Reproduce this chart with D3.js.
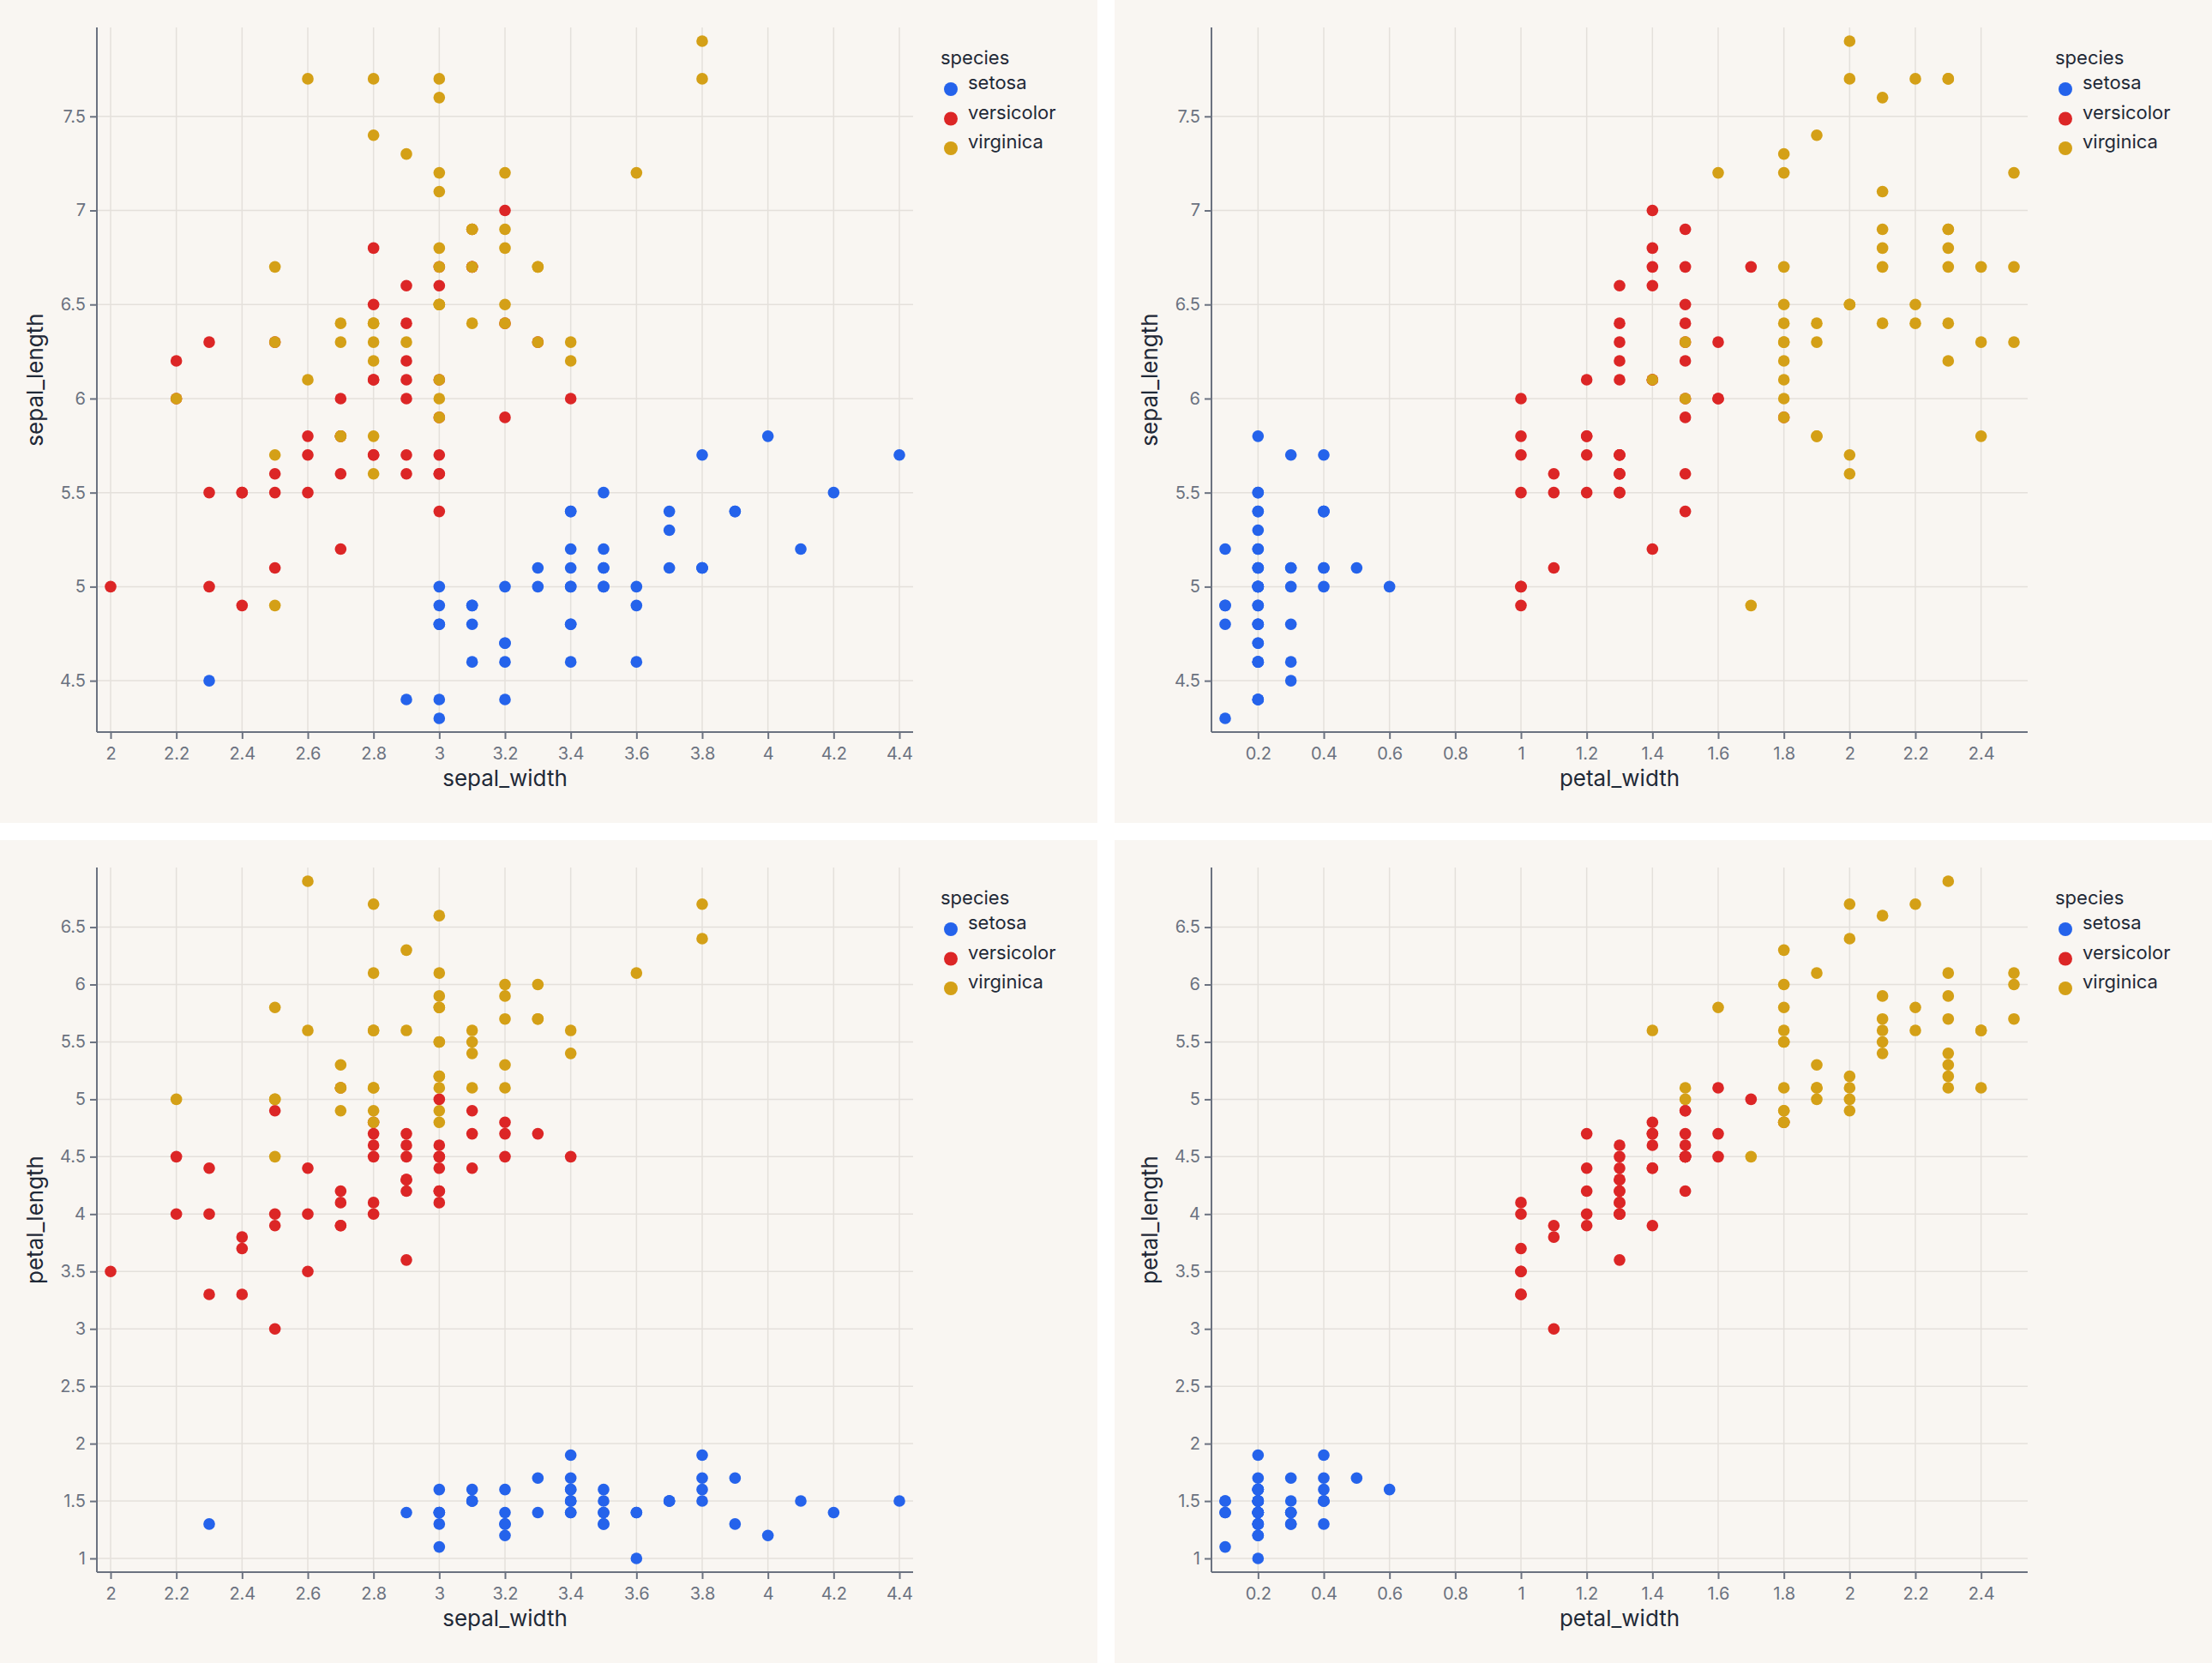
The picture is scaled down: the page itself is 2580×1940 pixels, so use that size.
<!DOCTYPE html>
<html>
<head>
<meta charset="utf-8">
<script src="https://cdn.jsdelivr.net/npm/d3@7"></script>
<style>
  html, body { margin: 0; padding: 0; background: #ffffff; }
  svg { display: block; }
  text { font-family: Inter, "Noto Sans", sans-serif; }
</style>
</head>
<body>
<svg id="chart" width="2580" height="1940"></svg>
<script>
// ---------------- DATA (Iris) ----------------
const species = ["setosa", "versicolor", "virginica"];
const speciesColors = ["#2563eb", "#dc2626", "#d4a017"];

const setosa_sepal_length = [5.1,4.9,4.7,4.6,5.0,5.4,4.6,5.0,4.4,4.9,5.4,4.8,4.8,4.3,5.8,5.7,5.4,5.1,5.7,5.1,5.4,5.1,4.6,5.1,4.8,5.0,5.0,5.2,5.2,4.7,4.8,5.4,5.2,5.5,4.9,5.0,5.5,4.9,4.4,5.1,5.0,4.5,4.4,5.0,5.1,4.8,5.1,4.6,5.3,5.0];
const setosa_sepal_width  = [3.5,3.0,3.2,3.1,3.6,3.9,3.4,3.4,2.9,3.1,3.7,3.4,3.0,3.0,4.0,4.4,3.9,3.5,3.8,3.8,3.4,3.7,3.6,3.3,3.4,3.0,3.4,3.5,3.4,3.2,3.1,3.4,4.1,4.2,3.1,3.2,3.5,3.6,3.0,3.4,3.5,2.3,3.2,3.5,3.8,3.0,3.8,3.2,3.7,3.3];
const setosa_petal_length = [1.4,1.4,1.3,1.5,1.4,1.7,1.4,1.5,1.4,1.5,1.5,1.6,1.4,1.1,1.2,1.5,1.3,1.4,1.7,1.5,1.7,1.5,1.0,1.7,1.9,1.6,1.6,1.5,1.4,1.6,1.6,1.5,1.5,1.4,1.5,1.2,1.3,1.4,1.3,1.5,1.3,1.3,1.3,1.6,1.9,1.4,1.6,1.4,1.5,1.4];
const setosa_petal_width  = [0.2,0.2,0.2,0.2,0.2,0.4,0.3,0.2,0.2,0.1,0.2,0.2,0.1,0.1,0.2,0.4,0.4,0.3,0.3,0.3,0.2,0.4,0.2,0.5,0.2,0.2,0.4,0.2,0.2,0.2,0.2,0.4,0.1,0.2,0.2,0.2,0.2,0.1,0.2,0.2,0.3,0.3,0.2,0.6,0.4,0.3,0.2,0.2,0.2,0.2];

const versicolor_sepal_length = [7.0,6.4,6.9,5.5,6.5,5.7,6.3,4.9,6.6,5.2,5.0,5.9,6.0,6.1,5.6,6.7,5.6,5.8,6.2,5.6,5.9,6.1,6.3,6.1,6.4,6.6,6.8,6.7,6.0,5.7,5.5,5.5,5.8,6.0,5.4,6.0,6.7,6.3,5.6,5.5,5.5,6.1,5.8,5.0,5.6,5.7,5.7,6.2,5.1,5.7];
const versicolor_sepal_width  = [3.2,3.2,3.1,2.3,2.8,2.8,3.3,2.4,2.9,2.7,2.0,3.0,2.2,2.9,2.9,3.1,3.0,2.7,2.2,2.5,3.2,2.8,2.5,2.8,2.9,3.0,2.8,3.0,2.9,2.6,2.4,2.4,2.7,2.7,3.0,3.4,3.1,2.3,3.0,2.5,2.6,3.0,2.6,2.3,2.7,3.0,2.9,2.9,2.5,2.8];
const versicolor_petal_length = [4.7,4.5,4.9,4.0,4.6,4.5,4.7,3.3,4.6,3.9,3.5,4.2,4.0,4.7,3.6,4.4,4.5,4.1,4.5,3.9,4.8,4.0,4.9,4.7,4.3,4.4,4.8,5.0,4.5,3.5,3.8,3.7,3.9,5.1,4.5,4.5,4.7,4.4,4.1,4.0,4.4,4.6,4.0,3.3,4.2,4.2,4.2,4.3,3.0,4.1];
const versicolor_petal_width  = [1.4,1.5,1.5,1.3,1.5,1.3,1.6,1.0,1.3,1.4,1.0,1.5,1.0,1.4,1.3,1.4,1.5,1.0,1.5,1.1,1.8,1.3,1.5,1.2,1.3,1.4,1.4,1.7,1.5,1.0,1.1,1.0,1.2,1.6,1.5,1.6,1.5,1.3,1.3,1.3,1.2,1.4,1.2,1.0,1.3,1.2,1.3,1.3,1.1,1.3];

const virginica_sepal_length = [6.3,5.8,7.1,6.3,6.5,7.6,4.9,7.3,6.7,7.2,6.5,6.4,6.8,5.7,5.8,6.4,6.5,7.7,7.7,6.0,6.9,5.6,7.7,6.3,6.7,7.2,6.2,6.1,6.4,7.2,7.4,7.9,6.4,6.3,6.1,7.7,6.3,6.4,6.0,6.9,6.7,6.9,5.8,6.8,6.7,6.7,6.3,6.5,6.2,5.9];
const virginica_sepal_width  = [3.3,2.7,3.0,2.9,3.0,3.0,2.5,2.9,2.5,3.6,3.2,2.7,3.0,2.5,2.8,3.2,3.0,3.8,2.6,2.2,3.2,2.8,2.8,2.7,3.3,3.2,2.8,3.0,2.8,3.0,2.8,3.8,2.8,2.8,2.6,3.0,3.4,3.1,3.0,3.1,3.1,3.1,2.7,3.2,3.3,3.0,2.5,3.0,3.4,3.0];
const virginica_petal_length = [6.0,5.1,5.9,5.6,5.8,6.6,4.5,6.3,5.8,6.1,5.1,5.3,5.5,5.0,5.1,5.3,5.5,6.7,6.9,5.0,5.7,4.9,6.7,4.9,5.7,6.0,4.8,4.9,5.6,5.8,6.1,6.4,5.6,5.1,5.6,6.1,5.6,5.5,4.8,5.4,5.6,5.1,5.1,5.9,5.7,5.2,5.0,5.2,5.4,5.1];
const virginica_petal_width  = [2.5,1.9,2.1,1.8,2.2,2.1,1.7,1.8,1.8,2.5,2.0,1.9,2.1,2.0,2.4,2.3,1.8,2.2,2.3,1.5,2.3,2.0,2.0,1.8,2.1,1.8,1.8,1.8,2.1,1.6,1.9,2.0,2.2,1.5,1.4,2.3,2.4,1.8,1.8,2.1,2.4,2.3,1.9,2.3,2.5,2.3,1.9,2.0,2.3,1.8];

// tick labels per measurement
const sepal_width_ticks  = [2, 2.2, 2.4, 2.6, 2.8, 3, 3.2, 3.4, 3.6, 3.8, 4, 4.2, 4.4];
const petal_width_ticks  = [0.2, 0.4, 0.6, 0.8, 1, 1.2, 1.4, 1.6, 1.8, 2, 2.2, 2.4];
const sepal_length_ticks = [4.5, 5, 5.5, 6, 6.5, 7, 7.5];
const petal_length_ticks = [1, 1.5, 2, 2.5, 3, 3.5, 4, 4.5, 5, 5.5, 6, 6.5];

// ---------------- BUILD TABLE ----------------
const columns = {
  setosa:     {sepal_length: setosa_sepal_length, sepal_width: setosa_sepal_width, petal_length: setosa_petal_length, petal_width: setosa_petal_width},
  versicolor: {sepal_length: versicolor_sepal_length, sepal_width: versicolor_sepal_width, petal_length: versicolor_petal_length, petal_width: versicolor_petal_width},
  virginica:  {sepal_length: virginica_sepal_length, sepal_width: virginica_sepal_width, petal_length: virginica_petal_length, petal_width: virginica_petal_width}
};
const rows = [];
species.forEach(sp => {
  const c = columns[sp];
  c.sepal_length.forEach((v, i) => rows.push({
    species: sp,
    sepal_length: v,
    sepal_width: c.sepal_width[i],
    petal_length: c.petal_length[i],
    petal_width: c.petal_width[i]
  }));
});
const tickSets = {sepal_width: sepal_width_ticks, petal_width: petal_width_ticks, sepal_length: sepal_length_ticks, petal_length: petal_length_ticks};
const color = d3.scaleOrdinal().domain(species).range(speciesColors);

// ---------------- LAYOUT ----------------
const PW = 1280, PH = 960;
const plot = {left: 113, top: 32, right: 1065, bottom: 854};
const pad = 16;
const panels = [
  {ox: 0,    oy: 0,   xKey: "sepal_width", yKey: "sepal_length"},
  {ox: 1300, oy: 0,   xKey: "petal_width", yKey: "sepal_length"},
  {ox: 0,    oy: 980, xKey: "sepal_width", yKey: "petal_length"},
  {ox: 1300, oy: 980, xKey: "petal_width", yKey: "petal_length"}
];

const BG = "#f9f6f2", GRID = "#e4e0db", AXIS = "#6b7280", TITLE = "#1f2937";
const fmt = d3.format("~g");
const svg = d3.select("#chart");

panels.forEach(p => {
  const g = svg.append("g").attr("transform", `translate(${p.ox},${p.oy})`);
  g.append("rect").attr("width", PW).attr("height", PH).attr("fill", BG);

  const x = d3.scaleLinear().domain(d3.extent(rows, d => d[p.xKey]))
    .range([plot.left + pad, plot.right - pad]);
  const y = d3.scaleLinear().domain(d3.extent(rows, d => d[p.yKey]))
    .range([plot.bottom - pad, plot.top + pad]);
  const xt = tickSets[p.xKey], yt = tickSets[p.yKey];

  // grid
  g.append("g").selectAll("line").data(xt).join("line")
    .attr("x1", d => x(d)).attr("x2", d => x(d))
    .attr("y1", plot.top).attr("y2", plot.bottom)
    .attr("stroke", GRID).attr("stroke-width", 1.5);
  g.append("g").selectAll("line").data(yt).join("line")
    .attr("y1", d => y(d)).attr("y2", d => y(d))
    .attr("x1", plot.left).attr("x2", plot.right)
    .attr("stroke", GRID).attr("stroke-width", 1.5);

  // axes
  const xAxis = g.append("g").attr("transform", `translate(0,${plot.bottom})`)
    .call(d3.axisBottom(x).tickValues(xt).tickFormat(fmt).tickSize(8).tickSizeOuter(0).tickPadding(10));
  xAxis.select(".domain").attr("d", `M${plot.left},0H${plot.right}`);
  const yAxis = g.append("g").attr("transform", `translate(${plot.left},0)`)
    .call(d3.axisLeft(y).tickValues(yt).tickFormat(fmt).tickSize(8).tickSizeOuter(0).tickPadding(5));
  yAxis.select(".domain").attr("d", `M0,${plot.top}V${plot.bottom}`);
  [xAxis, yAxis].forEach(a => {
    a.select(".domain").attr("stroke", AXIS).attr("stroke-width", 2);
    a.selectAll(".tick line").attr("stroke", AXIS).attr("stroke-width", 2);
    a.selectAll(".tick text").attr("fill", AXIS)
      .style("font-family", "Inter, sans-serif").style("font-size", "20px");
  });

  // axis titles
  g.append("text").attr("x", (plot.left + plot.right) / 2).attr("y", 917)
    .attr("text-anchor", "middle").attr("fill", TITLE)
    .style("font-size", "26px").text(p.xKey);
  g.append("text").attr("transform", `translate(50,${(plot.top + plot.bottom) / 2}) rotate(-90)`)
    .attr("text-anchor", "middle").attr("fill", TITLE)
    .style("font-size", "26px").text(p.yKey);

  // points
  g.append("g").selectAll("circle").data(rows).join("circle")
    .attr("cx", d => x(d[p.xKey])).attr("cy", d => y(d[p.yKey]))
    .attr("r", 6.8).attr("fill", d => color(d.species));

  // legend
  const lg = g.append("g").attr("transform", "translate(1097,0)");
  lg.append("text").attr("x", 0).attr("y", 75).attr("fill", TITLE)
    .style("font-size", "22px").text("species");
  species.forEach((s, i) => {
    const cy = 104 + i * 34.5;
    lg.append("circle").attr("cx", 12).attr("cy", cy).attr("r", 8).attr("fill", color(s));
    lg.append("text").attr("x", 32).attr("y", cy).attr("fill", TITLE)
      .style("font-size", "22px").text(s);
  });
});
</script>
</body>
</html>
